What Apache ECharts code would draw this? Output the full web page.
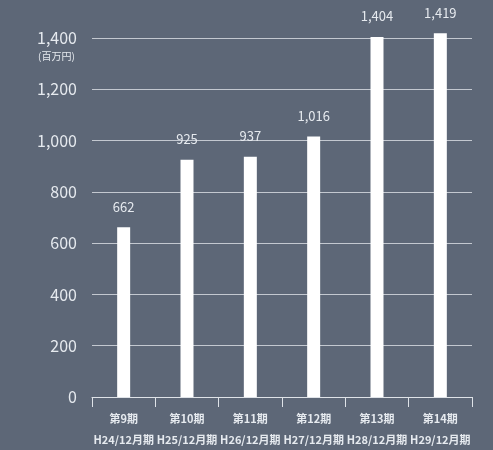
<!DOCTYPE html>
<html>
<head>
<meta charset="utf-8">
<script src="https://cdn.jsdelivr.net/npm/echarts@6/dist/echarts.min.js"></script>
<style>
html, body { margin: 0; padding: 0; background: #5d6777; }
#chart { width: 493px; height: 450px; }
</style>
</head>
<body>
<div id="chart"></div>
<script>
// 期と年度
const periods = ["第9期", "第10期", "第11期", "第12期", "第13期", "第14期"];
const years = ["H24/12月期", "H25/12月期", "H26/12月期", "H27/12月期", "H28/12月期", "H29/12月期"];
// 売上 (百万円)
const values = [662, 925, 937, 1016, 1404, 1419];
const yTicks = [0, 200, 400, 600, 800, 1000, 1200, 1400];

const textColor = "#e6eaef";
const font = "'Noto Sans CJK JP', 'Noto Sans', sans-serif";

let chart = echarts.init(document.getElementById("chart"));
chart.setOption({
  backgroundColor: "#5d6777",
  animation: false,
  grid: { left: 92, right: 21, top: 38, bottom: 52 },
  graphic: [
    {
      type: "text",
      left: 38,
      top: 51,
      style: { text: "(百万円)", fill: textColor, font: "10px " + font }
    }
  ],
  xAxis: {
    type: "category",
    data: periods.map((p, i) => p + "\n" + years[i]),
    axisLine: { lineStyle: { color: "#dfe3e8", width: 1 } },
    axisTick: { show: true, length: 10, lineStyle: { color: "#dfe3e8" } },
    axisLabel: {
      interval: 0,
      color: textColor,
      fontFamily: font,
      fontSize: 11,
      fontWeight: "bold",
      lineHeight: 21,
      margin: 11
    }
  },
  yAxis: {
    type: "value",
    min: yTicks[0],
    max: yTicks[yTicks.length - 1],
    interval: 200,
    axisLine: { show: false },
    axisTick: { show: false },
    splitLine: { lineStyle: { color: "#c3c8d0", width: 1 } },
    axisLabel: {
      color: textColor,
      fontFamily: font,
      fontSize: 16,
      margin: 15,
      formatter: v => v.toLocaleString("en-US")
    }
  },
  series: [
    {
      type: "bar",
      data: values,
      barWidth: 13,
      clip: false,
      itemStyle: { color: "#ffffff" },
      label: {
        show: true,
        position: "top",
        distance: 14,
        color: textColor,
        fontFamily: font,
        fontSize: 13,
        formatter: p => p.value.toLocaleString("en-US")
      }
    }
  ]
});
</script>
</body>
</html>
